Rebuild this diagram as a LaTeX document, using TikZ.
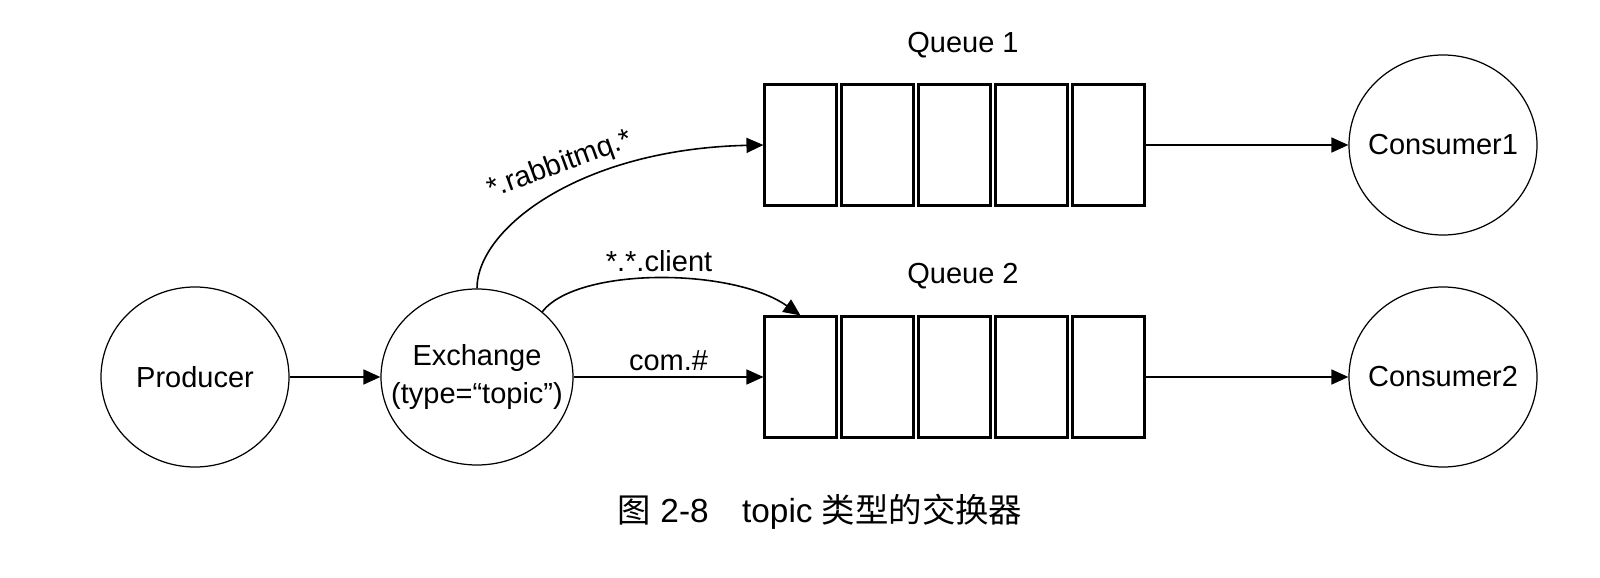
\documentclass[tikz,border=0pt]{standalone}
\usepackage{fontspec}
\setmainfont{Liberation Sans}
\newfontfamily\cjk{Noto Sans CJK SC}
\usepackage{tikz}
\usetikzlibrary{shapes.geometric,arrows.meta,positioning}

\begin{document}
\begin{tikzpicture}[
    font=\fontsize{16.5}{21.5}\selectfont,
    >={Triangle[length=3.4mm,width=3mm]},
    party/.style={ellipse, draw, line width=0.7pt, minimum width=3.76cm, minimum height=3.6cm, inner xsep=-0.5cm, inner ysep=-0.3cm, align=center},
    slot/.style={draw, line width=1.2pt, minimum width=1.44cm, minimum height=2.42cm, inner sep=0pt},
    link/.style={->, line width=0.9pt}
]
    \useasboundingbox (0,0) rectangle (32,11.54);

    \node[party] (prod) at (3.90,4.0) {Producer};
    \node[party, minimum width=3.84cm, minimum height=3.52cm] (ex) at (9.54,4.0) {Exchange\\(type=“topic”)};

    % queues: five slots each
    \foreach \k/\n in {0/a,1/b,2/c,3/d,4/e} {
        \node[slot] (q1\n) at ({16.01+1.54*\k},8.64) {};
        \node[slot] (q2\n) at ({16.01+1.54*\k},4.0) {};
    }
    \node (q1lab) at (19.26,10.64) {Queue 1};
    \node (q2lab) at (19.26,6.02) {Queue 2};

    \node[party] (con1) at (28.86,8.64) {Consumer1};
    \node[party] (con2) at (28.86,4.0) {Consumer2};

    \draw[link] (prod) -- (ex);
    \draw[link] (ex) -- node[above] {com.\#} (q2a);
    \draw[link] (ex.north) .. controls +(0,1.2) and +(-3.66,-0.08) .. (q1a.west)
        node[pos=0.55, above=2pt, rotate=20] {*.rabbitmq.*};
    \draw[link] (ex.45) .. controls +(0.7,0.9) and +(-1.36,0.96) .. (q2a.north)
        node[midway, above] {*.*.client};
    \draw[link] (q1e) -- (con1);
    \draw[link] (q2e) -- (con2);

    % caption
    \node[font=\fontsize{19}{22}\selectfont] (cap) at (16.4,1.30) {{\cjk 图} 2-8{\cjk　}topic {\cjk 类型的交换器}};
\end{tikzpicture}
\end{document}
